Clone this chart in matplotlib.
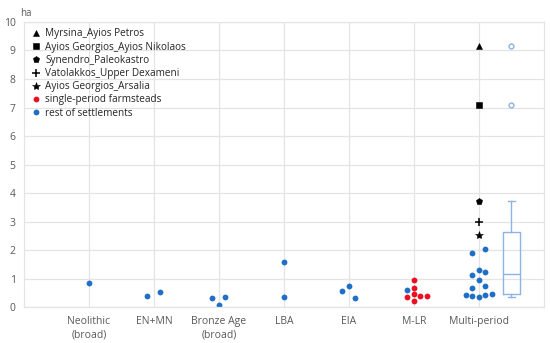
import matplotlib.pyplot as plt
import numpy as np
from matplotlib.cbook import boxplot_stats

plt.rcParams['font.family'] = ['Open Sans', 'DejaVu Sans']

categories = ['Neolithic\n(broad)', 'EN+MN', 'Bronze Age\n(broad)', 'LBA', 'EIA', 'M-LR', 'Multi-period']

# rest of settlements: (category index, horizontal jitter, ha)
blue_cat = [1, 2, 2, 3, 3, 3, 4, 4, 5, 5, 5, 6,
            7, 7, 7, 7, 7, 7, 7, 7, 7, 7, 7, 7, 7]
blue_off = [0, -0.1, 0.1, -0.1, 0, 0.1, 0, 0, -0.1, 0, 0.1, -0.1,
            -0.1, 0.1, 0, -0.1, 0.1, 0, -0.1, 0.1, -0.2, -0.1, 0, 0.1, 0.2]
blue_val = [0.87, 0.41, 0.55, 0.31, 0.08, 0.36, 1.59, 0.36, 0.57, 0.74, 0.34, 0.61,
            1.91, 2.06, 1.31, 1.12, 1.23, 0.97, 0.67, 0.74, 0.44, 0.41, 0.37, 0.44, 0.46]

# single-period farmsteads (M-LR)
red_off = [0, 0, 0, 0, -0.1, 0.1, 0.2]
red_val = [0.96, 0.69, 0.47, 0.23, 0.37, 0.40, 0.40]

# named multi-period sites
named_sites = ['Myrsina_Ayios Petros', 'Ayios Georgios_Ayios Nikolaos', 'Synendro_Paleokastro',
               'Vatolakkos_Upper Dexameni', 'Ayios Georgios_Arsalia']
named_val = [9.14, 7.09, 3.71, 2.98, 2.53]
named_mark = ['^', 's', 'p', '+', '*']
named_size = [4, 4, 5, 6, 6]

blue = '#1f6fc6'
red = '#e81123'
boxc = '#8db3e2'
grid = '#e4e4e4'
txt = '#595959'

fig, ax = plt.subplots(figsize=(5.5, 3.43), dpi=100)
fig.subplots_adjust(left=0.0436, right=0.989, top=0.936, bottom=0.104)

for i in range(len(named_sites)):
    ax.plot(7, named_val[i], marker=named_mark[i], color='black', markersize=named_size[i],
            markeredgewidth=1.1 if named_mark[i] == '+' else 0.4, linestyle='none',
            label=named_sites[i])

ax.plot(6 + np.array(red_off), red_val, 'o', color=red, markersize=4.2, markeredgewidth=0,
        label='single-period farmsteads')
ax.plot(np.array(blue_cat) + np.array(blue_off), blue_val, 'o', color=blue, markersize=4.2,
        markeredgewidth=0, label='rest of settlements')

# box plot of all multi-period values, quartiles computed the exclusive way
multi = [v for c, v in zip(blue_cat, blue_val) if c == 7] + named_val
st = boxplot_stats(multi)[0]
q1, q3 = np.percentile(multi, [25, 75], method='weibull')
iqr = q3 - q1
arr = np.array(multi)
st['q1'], st['q3'], st['iqr'] = q1, q3, iqr
st['whishi'] = arr[arr <= q3 + 1.5 * iqr].max()
st['whislo'] = arr[arr >= q1 - 1.5 * iqr].min()
st['fliers'] = arr[(arr > q3 + 1.5 * iqr) | (arr < q1 - 1.5 * iqr)]
ax.bxp([st], positions=[7.5], widths=0.27, showfliers=True,
       boxprops=dict(color=boxc, linewidth=1), whiskerprops=dict(color=boxc, linewidth=1),
       capprops=dict(color=boxc, linewidth=1), medianprops=dict(color=boxc, linewidth=1),
       flierprops=dict(marker='o', markerfacecolor='none', markeredgecolor=boxc,
                       markersize=3.5, markeredgewidth=1), capwidths=0.1)

ax.set_xlim(0, 8)
ax.set_ylim(0, 10)
ax.set_xticks(range(1, 8))
ax.set_xticklabels(categories, fontsize=7.5, color=txt, linespacing=1.3)
ax.set_yticks(range(0, 11))
ax.set_yticklabels([str(i) for i in range(11)], fontsize=7.5, color=txt)
ax.tick_params(length=0, pad=6)
ax.grid(True, color=grid, linewidth=0.9)
ax.set_axisbelow(True)
for s in ax.spines.values():
    s.set_color(grid)
    s.set_linewidth(0.9)
fig.text(20 / 550, 1 - 13 / 343, 'ha', fontsize=7, color=txt, ha='left', va='center')

ax.legend(loc='upper left', frameon=False, fontsize=7.2, handletextpad=0.3, handlelength=1.2,
          labelspacing=0.22, borderaxespad=0.25, labelcolor='#262626', markerscale=1.0)

plt.savefig('out.png', dpi=100)
